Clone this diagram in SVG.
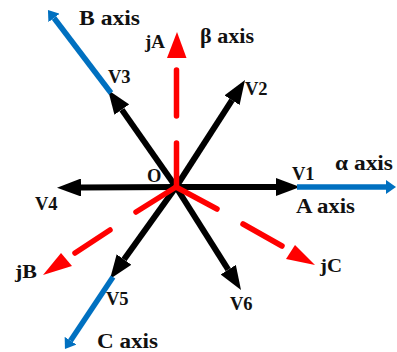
<svg xmlns="http://www.w3.org/2000/svg" width="397" height="352" viewBox="0 0 397 352">
<style>
.lbl{font-family:"Liberation Serif","Times New Roman",serif;font-weight:bold;fill:#111}
.vs{font-size:18.5px}
.ax{font-size:20px}
.js{font-size:19px}
.vec{stroke:#000;stroke-width:6;fill:none;marker-end:url(#bh)}
.axis{stroke:#0070C0;stroke-width:5.5;fill:none;marker-end:url(#uh)}
.jv{stroke:#FF0000;stroke-width:5.5;stroke-linecap:round;fill:none}
.jh{fill:#FF0000}
</style>
<defs>
<marker id="bh" markerUnits="userSpaceOnUse" markerWidth="24" markerHeight="18" refX="0" refY="9" orient="auto"><path d="M0,0 L24,9 L0,18 z" fill="#000"/></marker>
<marker id="uh" markerUnits="userSpaceOnUse" markerWidth="10" markerHeight="14" refX="0" refY="7" orient="auto"><path d="M0,0 L10,7 L0,14 z" fill="#0070C0"/></marker>
</defs>
<rect width="397" height="352" fill="#fff"/>
<g id="connectors">
  <line class="vec" x1="176" y1="187" x2="276" y2="187"/>
  <line class="vec" x1="176" y1="187" x2="81" y2="187.5"/>
  <line class="vec" x1="176" y1="187" x2="232" y2="100.2"/>
  <line class="vec" x1="176" y1="187" x2="121.8" y2="109.6"/>
  <line class="vec" x1="176" y1="187" x2="124" y2="259.5"/>
  <line class="vec" x1="176" y1="187" x2="228.2" y2="269.7"/>
  <line class="axis" x1="297" y1="187" x2="386" y2="187"/>
  <line class="axis" x1="111" y1="93" x2="54" y2="18"/>
  <line class="axis" x1="113" y1="277" x2="70.5" y2="340.7"/>
  <g id="jA-vec">
    <line class="jv" x1="176.5" y1="187" x2="176.5" y2="143"/>
    <line class="jv" x1="176.5" y1="116" x2="176.5" y2="70"/>
    <polygon class="jh" points="177,32 167,58 186.5,58"/>
  </g>
  <g id="jB-vec">
    <line class="jv" x1="176" y1="187" x2="136" y2="212"/>
    <line class="jv" x1="110" y1="230" x2="75" y2="253"/>
    <polygon class="jh" points="43,275 61,253 72,266"/>
  </g>
  <g id="jC-vec">
    <line class="jv" x1="176" y1="187" x2="217" y2="209"/>
    <line class="jv" x1="243" y1="224" x2="282" y2="246"/>
    <polygon class="jh" points="315,265 295,245 286,259"/>
  </g>
</g>
<g id="O"><text class="lbl vs" x="147" y="182">O</text></g>
<g id="V1"><text class="lbl vs" x="292" y="180">V1</text></g>
<g id="V2"><text class="lbl vs" x="245" y="95">V2</text></g>
<g id="V3"><text class="lbl vs" x="108" y="83">V3</text></g>
<g id="V4"><text class="lbl vs" x="35" y="210">V4</text></g>
<g id="V5"><text class="lbl vs" x="106" y="305">V5</text></g>
<g id="V6"><text class="lbl vs" x="230" y="310">V6</text></g>
<g id="A-axis"><text class="lbl ax" x="296" y="213" textLength="59" lengthAdjust="spacingAndGlyphs">A axis</text></g>
<g id="alpha-axis"><text class="lbl ax" x="335" y="170" textLength="58" lengthAdjust="spacingAndGlyphs">α axis</text></g>
<g id="B-axis"><text class="lbl ax" x="79" y="25" textLength="61" lengthAdjust="spacingAndGlyphs">B axis</text></g>
<g id="beta-axis"><text class="lbl ax" x="200" y="43" textLength="54" lengthAdjust="spacingAndGlyphs">β axis</text></g>
<g id="C-axis"><text class="lbl ax" x="97" y="348" textLength="61" lengthAdjust="spacingAndGlyphs">C axis</text></g>
<g id="jA"><text class="lbl js" x="145" y="48" textLength="20" lengthAdjust="spacingAndGlyphs">jA</text></g>
<g id="jB"><text class="lbl js" x="15" y="278" textLength="22" lengthAdjust="spacingAndGlyphs">jB</text></g>
<g id="jC"><text class="lbl js" x="320" y="272" textLength="22" lengthAdjust="spacingAndGlyphs">jC</text></g>
</svg>
